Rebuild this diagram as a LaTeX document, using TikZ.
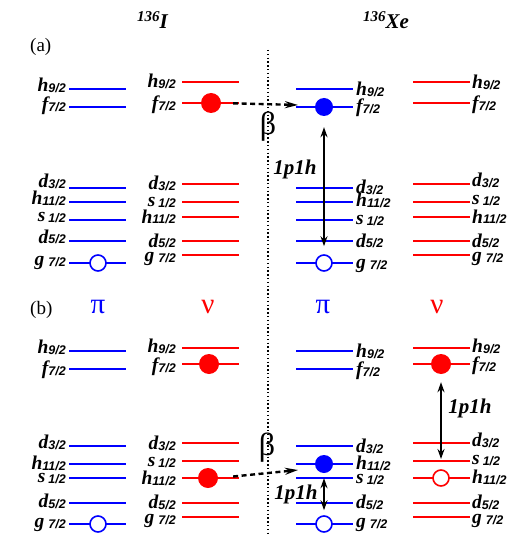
\documentclass[tikz,border=0pt]{standalone}
\usepackage{fontspec}
\setmainfont{Liberation Serif}
\newfontfamily\subfont{Liberation Sans}
\usetikzlibrary{arrows.meta}
\newcommand\orb[2]{{\fontsize{19.5}{19.5}\selectfont\bfseries\itshape #1\raisebox{-1pt}{\fontsize{12.5}{12.5}\subfont\bfseries\itshape #2}}}
\tikzset{
  lvl/.style={line width=1.8pt},
  lab/.style={inner sep=0pt},
  pfill/.style={circle, inner sep=0pt, minimum size=#1, fill=red},
  bfill/.style={circle, inner sep=0pt, minimum size=#1, fill=blue},
  hole/.style={circle, inner sep=0pt, minimum size=16pt, draw=#1, line width=1.6pt, fill=white},
  mytip/.tip={Stealth[length=10pt,width=7pt]},
  dbl/.style={mytip-mytip, line width=1.6pt},
  dsh/.style={-{Stealth[length=13pt,width=7pt]}, line width=2.4pt, dash pattern=on 5pt off 3.5pt},
  dotline/.style={line width=1.4pt, dash pattern=on 1.4pt off 2.4pt},
  greek/.style={inner sep=0pt, font=\fontsize{29}{29}\selectfont},
  lp/.style={inner sep=0pt, font=\fontsize{21}{21}\selectfont\bfseries\itshape},
  betast/.style={inner sep=0pt, font=\fontsize{32}{32}\selectfont}
}
% level macros: name, y, letter, subscript, baseline offset
\newcommand\pI[5]{\draw[lvl,blue] (69,#2) -- (126,#2); \node[lab,anchor=base east] (#1) at (66,#2+#5) {\orb{#3}{#4}};}
\newcommand\nI[5]{\draw[lvl,red] (182,#2) -- (239,#2); \node[lab,anchor=base east] (#1) at (176,#2+#5) {\orb{#3}{#4}};}
\newcommand\pX[5]{\draw[lvl,blue] (296,#2) -- (353,#2); \node[lab,anchor=base west] (#1) at (356,#2+#5) {\orb{#3}{#4}};}
\newcommand\nX[5]{\draw[lvl,red] (413,#2) -- (470,#2); \node[lab,anchor=base west] (#1) at (472,#2+#5) {\orb{#3}{#4}};}
\begin{document}
\begin{tikzpicture}[x=1pt,y=-1pt]
\useasboundingbox (0,0) rectangle (530,534);
% dotted separator
\coordinate (dtop) at (268,50);
\coordinate (dbot) at (268,534);
\draw[dotline] (dtop) -- (dbot);
% titles
\node[lab,anchor=base west] (tI) at (137,29) {\fontsize{21}{21}\selectfont\bfseries\itshape\raisebox{7pt}{\fontsize{15}{15}\selectfont 136}I};
\node[lab,anchor=base west] (tXe) at (363,29) {\fontsize{21}{21}\selectfont\bfseries\itshape\raisebox{7pt}{\fontsize{15}{15}\selectfont 136}Xe};
\node[lab,anchor=base west] (pa) at (30,52) {\fontsize{19}{19}\selectfont (a)};
\node[lab,anchor=base west] (pb) at (30,314) {\fontsize{19}{19}\selectfont (b)};
\node[greek,anchor=base,blue] (pi1) at (98,313) {π};
\node[greek,anchor=base,red] (nu1) at (208,313) {ν};
\node[greek,anchor=base,blue] (pi2) at (323,313) {π};
\node[greek,anchor=base,red] (nu2) at (437,313) {ν};
% ---------- panel (a) ----------
\pI{pa1}{89}{h}{9/2}{3}
\pI{pa2}{107}{f}{7/2}{4}
\pI{pa3}{188}{d}{3/2}{0}
\pI{pa4}{202}{h}{11/2}{3}
\pI{pa5}{220}{s\hspace{3pt}}{1/2}{2}
\pI{pa6}{241}{d}{5/2}{2}
\pI{pa7}{263}{g\hspace{4pt}}{7/2}{2}
\nI{na1}{82}{h}{9/2}{6}
\nI{na2}{103}{f}{7/2}{7}
\nI{na3}{184}{d}{3/2}{6}
\nI{na4}{202}{s\hspace{3pt}}{1/2}{5}
\nI{na5}{217}{h}{11/2}{6}
\nI{na6}{241}{d}{5/2}{6}
\nI{na7}{255}{g\hspace{4pt}}{7/2}{6}
\pX{xpa1}{89}{h}{9/2}{7}
\pX{xpa2}{107}{f}{7/2}{6}
\pX{xpa3}{188}{d}{3/2}{6}
\pX{xpa4}{202}{h}{11/2}{5}
\pX{xpa5}{220}{s\hspace{3pt}}{1/2}{5}
\pX{xpa6}{241}{d}{5/2}{6}
\pX{xpa7}{263}{g\hspace{4pt}}{7/2}{5}
\nX{xna1}{82}{h}{9/2}{7}
\nX{xna2}{103}{f}{7/2}{7}
\nX{xna3}{184}{d}{3/2}{3}
\nX{xna4}{202}{s\hspace{3pt}}{1/2}{3}
\nX{xna5}{217}{h}{11/2}{6}
\nX{xna6}{241}{d}{5/2}{6}
\nX{xna7}{255}{g\hspace{4pt}}{7/2}{6}
% particles / holes (a)
\node[pfill=20pt] (rcA) at (211,103) {};
\node[bfill=18pt] (bcA) at (324,107) {};
\node[hole=blue] (hpA) at (98,263) {};
\node[hole=blue] (hxA) at (324,263) {};
\coordinate (tA) at (298,105);
\draw[dsh, shorten <=12pt] (rcA.east) -- (tA);
\draw[dbl, shorten <=11pt, shorten >=8pt] (bcA.south) -- (hxA.north);
\node[lp,anchor=base] (lpA) at (295,175) {1p1h};
\node[betast] (betaA) at (268,127) {β};
% ---------- panel (b) ----------
\pI{pb1}{351}{h}{9/2}{2}
\pI{pb2}{369}{f}{7/2}{5}
\pI{pb3}{446}{d}{3/2}{2}
\pI{pb4}{464}{h}{11/2}{5}
\pI{pb5}{478}{s\hspace{3pt}}{1/2}{4}
\pI{pb6}{503}{d}{5/2}{4}
\pI{pb7}{524}{g\hspace{4pt}}{7/2}{3}
\nI{nb1}{348}{h}{9/2}{4}
\nI{nb2}{364}{f}{7/2}{7}
\nI{nb3}{443}{d}{3/2}{6}
\nI{nb4}{461}{s\hspace{3pt}}{1/2}{5}
\nI{nb5}{478}{h}{11/2}{6}
\nI{nb6}{503}{d}{5/2}{5}
\nI{nb7}{517}{g\hspace{4pt}}{7/2}{6}
\pX{xpb1}{351}{h}{9/2}{6}
\pX{xpb2}{369}{f}{7/2}{6}
\pX{xpb3}{446}{d}{3/2}{6}
\pX{xpb4}{464}{h}{11/2}{5}
\pX{xpb5}{478}{s\hspace{3pt}}{1/2}{5}
\pX{xpb6}{503}{d}{5/2}{5}
\pX{xpb7}{524}{g\hspace{4pt}}{7/2}{3}
\nX{xnb1}{348}{h}{9/2}{4}
\nX{xnb2}{364}{f}{7/2}{6}
\nX{xnb3}{443}{d}{3/2}{3}
\nX{xnb4}{461}{s\hspace{3pt}}{1/2}{3}
\nX{xnb5}{478}{h}{11/2}{5}
\nX{xnb6}{503}{d}{5/2}{5}
\nX{xnb7}{517}{g\hspace{4pt}}{7/2}{6}
% particles / holes (b)
\node[pfill=20pt] (rcB1) at (209,364) {};
\node[pfill=20pt] (rcB2) at (208,478) {};
\node[pfill=20pt] (xnB) at (441,364) {};
\node[hole=red] (hxnB) at (441,478) {};
\node[bfill=18pt] (bcB) at (324,464) {};
\node[hole=blue] (hpB) at (98,524) {};
\node[hole=blue] (hxB) at (324,524) {};
\coordinate (tB) at (298,470);
\coordinate (sB) at (441,461);
\draw[dsh, shorten <=15pt] (rcB2.east) -- (tB);
\draw[dbl, shorten <=8pt, shorten >=2pt] (xnB.south) -- (sB);
\draw[dbl, shorten <=5pt, shorten >=5pt] (bcB.south) -- (hxB.north);
\node[lp,anchor=base] (lpB1) at (470,413) {1p1h};
\node[lp,anchor=base] (lpB2) at (296,499) {1p1h};
\node[betast] (betaB) at (267,448) {β};
\end{tikzpicture}
\end{document}
